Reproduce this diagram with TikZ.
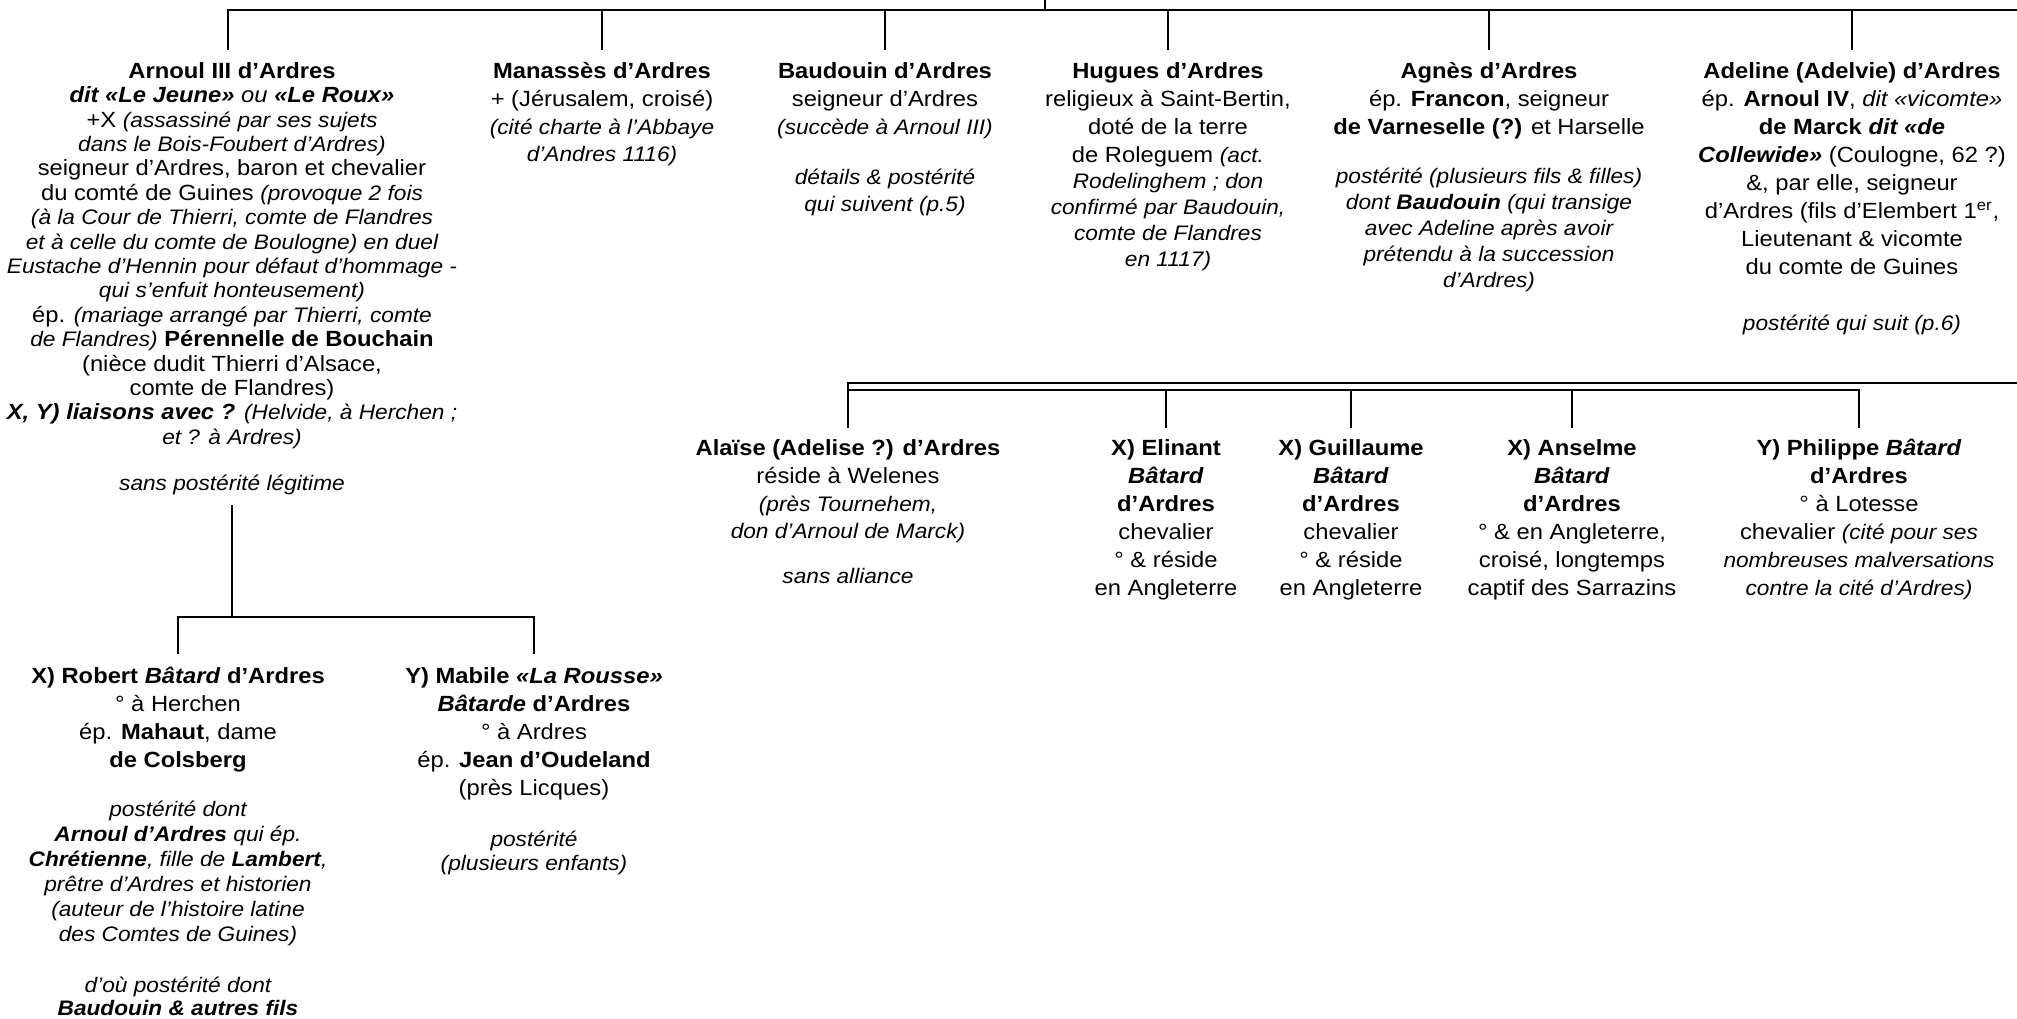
\documentclass[tikz,border=0pt]{standalone}
\usepackage{fontspec}
\setmainfont{Liberation Sans}[FakeStretch=1.08]
\newcommand\cmt[1]{{\fontsize{10.5}{\baselineskip}\selectfont\itshape #1}}
\newcommand\bi[1]{\textbf{\textit{#1}}}
\begin{document}
\begin{tikzpicture}[x=0.5pt,y=-0.5pt,
  person/.style={anchor=north, inner sep=0pt, align=center, font=\fontsize{11}{14}\selectfont},
  link/.style={line width=1.3pt, line cap=rect}]
\useasboundingbox (0,0) rectangle (2017,1018);
\fill[white] (0,0) rectangle (2017,1018);

% ---------- top row ----------
\node[person, font=\fontsize{11}{12.2}\selectfont] (arnoul) at (232,62) {\textbf{Arnoul III d’Ardres}\\
\bi{dit «Le Jeune»} \textit{ou} \bi{«Le Roux»}\\
+X \cmt{(assassiné par ses sujets}\\
\cmt{dans le Bois-Foubert d’Ardres)}\\
seigneur d’Ardres, baron et chevalier\\
du comté de Guines \cmt{(provoque 2 fois}\\
\cmt{(à la Cour de Thierri, comte de Flandres}\\
\cmt{et à celle du comte de Boulogne) en duel}\\
\cmt{Eustache d’Hennin pour défaut d’hommage -}\\
\cmt{qui s’enfuit honteusement)}\\
ép. \cmt{(mariage arrangé par Thierri, comte}\\
\cmt{de Flandres)} \textbf{Pérennelle de Bouchain}\\
(nièce dudit Thierri d’Alsace,\\
comte de Flandres)\\
\bi{X, Y) liaisons avec ?} \cmt{(Helvide, à Herchen ;}\\
\cmt{et ? à Ardres)}\\[10.8pt]
\cmt{sans postérité légitime}};

\node[person] (manasses) at (602,62) {\textbf{Manassès d’Ardres}\\
+ (Jérusalem, croisé)\\
\cmt{(cité charte à l’Abbaye}\\[-0.5pt]
\cmt{d’Andres 1116)}};

\node[person] (baudouin) at (885,62) {\textbf{Baudouin d’Ardres}\\
seigneur d’Ardres\\
\cmt{(succède à Arnoul III)}\\[11pt]
\cmt{détails \& postérité}\\[-0.5pt]
\cmt{qui suivent (p.5)}};

\node[person] (hugues) at (1168,62) {\textbf{Hugues d’Ardres}\\
religieux à Saint-Bertin,\\
doté de la terre\\
de Roleguem \cmt{(act.}\\[-1pt]
\cmt{Rodelinghem ; don}\\[-1pt]
\cmt{confirmé par Baudouin,}\\[-1pt]
\cmt{comte de Flandres}\\[-1pt]
\cmt{en 1117)}};

\node[person] (agnes) at (1489,62) {\textbf{Agnès d’Ardres}\\
ép. \textbf{Francon}, seigneur\\
\textbf{de Varneselle (?)} et Harselle\\[10.5pt]
\cmt{postérité (plusieurs fils \& filles)}\\[-1pt]
\cmt{dont \textbf{Baudouin} (qui transige}\\[-1pt]
\cmt{avec Adeline après avoir}\\[-1pt]
\cmt{prétendu à la succession}\\[-1pt]
\cmt{d’Ardres)}};

\node[person] (adeline) at (1852,62) {\textbf{Adeline (Adelvie) d’Ardres}\\
ép. \textbf{Arnoul IV}, \textit{dit «vicomte»}\\
\textbf{de Marck} \bi{dit «de}\\
\bi{Collewide»} (Coulogne, 62 ?)\\
\&, par elle, seigneur\\
d’Ardres (fils d’Elembert 1\textsuperscript{er},\\
Lieutenant \& vicomte\\
du comte de Guines\\[14pt]
\cmt{postérité qui suit (p.6)}};

% ---------- second row (right) ----------
\node[person] (alaise) at (848,439) {\textbf{Alaïse (Adelise ?) d’Ardres}\\
réside à Welenes\\
\cmt{(près Tournehem,}\\[-0.5pt]
\cmt{don d’Arnoul de Marck)}\\[8.5pt]
\cmt{sans alliance}};

\node[person] (elinant) at (1166,439) {\textbf{X) Elinant}\\
\bi{Bâtard}\\
\textbf{d’Ardres}\\
chevalier\\
° \& réside\\
en Angleterre};

\node[person] (guillaume) at (1351,439) {\textbf{X) Guillaume}\\
\bi{Bâtard}\\
\textbf{d’Ardres}\\
chevalier\\
° \& réside\\
en Angleterre};

\node[person] (anselme) at (1572,439) {\textbf{X) Anselme}\\
\bi{Bâtard}\\
\textbf{d’Ardres}\\
° \& en Angleterre,\\
croisé, longtemps\\
captif des Sarrazins};

\node[person] (philippe) at (1859,439) {\textbf{Y) Philippe \textit{Bâtard}}\\
\textbf{d’Ardres}\\
° à Lotesse\\
chevalier \cmt{(cité pour ses}\\
\cmt{nombreuses malversations}\\
\cmt{contre la cité d’Ardres)}};

% ---------- third row (left) ----------
\node[person] (robert) at (178,667) {\textbf{X) Robert \textit{Bâtard} d’Ardres}\\
° à Herchen\\
ép. \textbf{Mahaut}, dame\\
\textbf{de Colsberg}\\[10.5pt]
\cmt{postérité dont}\\[-1.5pt]
\cmt{\textbf{Arnoul d’Ardres} qui ép.}\\[-1.5pt]
\cmt{\textbf{Chrétienne}, fille de \textbf{Lambert},}\\[-1.5pt]
\cmt{prêtre d’Ardres et historien}\\[-1.5pt]
\cmt{(auteur de l’histoire latine}\\[-1.5pt]
\cmt{des Comtes de Guines)}\\[11.5pt]
\cmt{d’où postérité dont}\\[-2.5pt]
\cmt{\textbf{Baudouin \& autres fils}}};

\node[person] (mabile) at (534,667) {\textbf{Y) Mabile \textit{«La Rousse»}}\\
\bi{Bâtarde} \textbf{d’Ardres}\\
° à Ardres\\
ép. \textbf{Jean d’Oudeland}\\
(près Licques)\\[11.5pt]
\cmt{postérité}\\[-2pt]
\cmt{(plusieurs enfants)}};

% ---------- connectors ----------
\coordinate (src) at (1045,0);
\coordinate (barL) at (228,10);
\coordinate (barR) at (2017,10);
\draw[link] (src) -- (src |- barL);
\draw[link] (barL) -- (barR);
\draw[link] (barL) -- ([yshift=6.5pt]barL |- arnoul.north);
\foreach \n in {manasses,baudouin,hugues,agnes,adeline}
  \draw[link] (\n.north |- barL) -- ([yshift=6.5pt]\n.north);

% double bar of the second row
\coordinate (dU) at (848,383);
\coordinate (dL) at (848,390);
\coordinate (dUR) at (2017,383);
\draw[link] (dU) -- (dUR);
\draw[link] (dL) -- (dL -| philippe.north);
\draw[link] (dU) -- ([yshift=6pt]alaise.north);
\foreach \n in {elinant,guillaume,anselme,philippe}
  \draw[link] (dL -| \n.north) -- ([yshift=6pt]\n.north);

% children of Arnoul III
\path (robert.north) ++(0,-50) coordinate (b2L);
\draw[link] ([yshift=-5.5pt]arnoul.south) -- (arnoul.south |- b2L);
\draw[link] (b2L) -- (b2L -| mabile.north);
\foreach \n in {robert,mabile}
  \draw[link] (\n.north |- b2L) -- ([yshift=7pt]\n.north);
\end{tikzpicture}
\end{document}
